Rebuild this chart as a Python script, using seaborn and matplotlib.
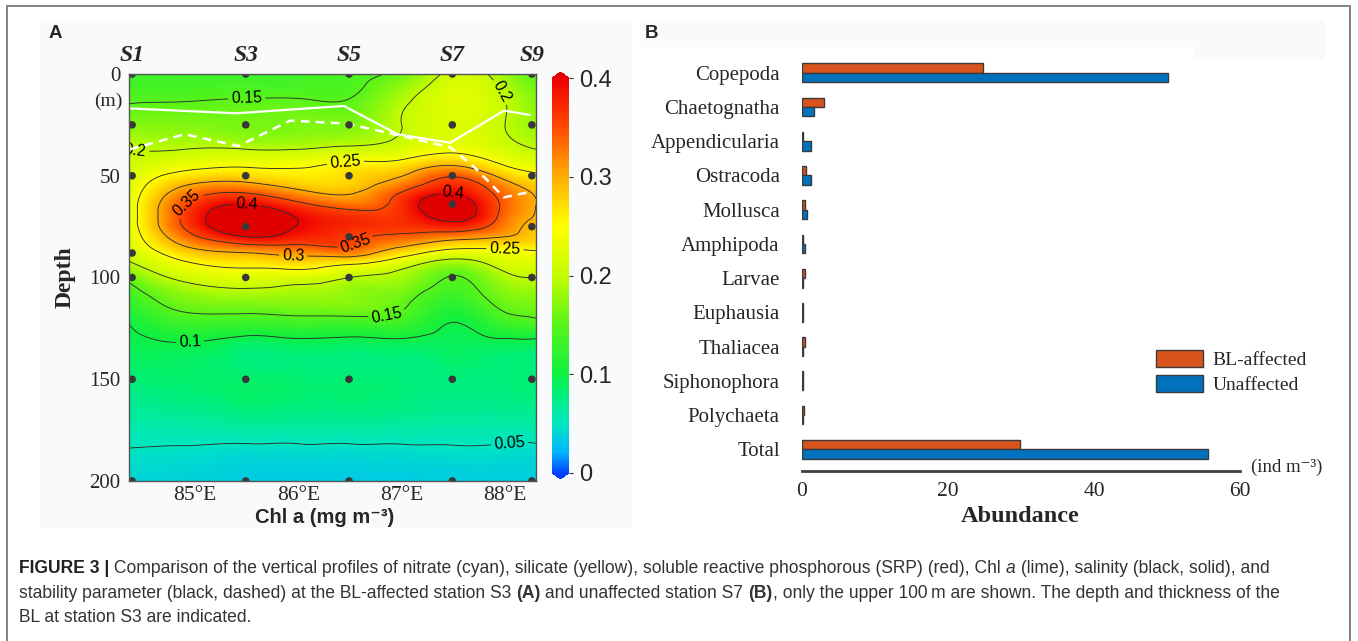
import numpy as np
import pandas as pd
import matplotlib
matplotlib.use("Agg")
import matplotlib.pyplot as plt
import matplotlib.tri as mtri
from matplotlib.colors import LinearSegmentedColormap
from matplotlib.patches import Rectangle, Patch
from matplotlib import font_manager as fm
import seaborn as sns

# ---------------- Panel A data ----------------
station_names = ["S1", "S3", "S5", "S7", "S9"]
station_lon = [84.39, 85.49, 86.49, 87.49, 88.26]
sample_depths = [
    [0, 25, 50, 88, 100, 150, 200],
    [0, 25, 50, 75, 100, 150, 200],
    [0, 25, 50, 80, 100, 150, 200],
    [0, 25, 50, 64, 100, 150, 200],
    [0, 25, 50, 75, 100, 150, 200],
]
grid_lon = [84.36, 84.9, 85.5, 86.0, 86.5, 87.0, 87.5, 88.0, 88.3]
grid_depth = [0, 12, 25, 37, 45, 52, 58, 64, 72, 80, 86, 92, 100, 110, 120, 130, 150, 180, 200]
chl_8436 = [0.13, 0.145, 0.17, 0.20, 0.21, 0.22, 0.225, 0.23, 0.23, 0.225, 0.215, 0.20, 0.16, 0.13, 0.105, 0.095, 0.08, 0.053, 0.04]
chl_8490 = [0.13, 0.147, 0.17, 0.20, 0.235, 0.28, 0.32, 0.35, 0.36, 0.33, 0.29, 0.25, 0.21, 0.17, 0.14, 0.105, 0.085, 0.053, 0.038]
chl_8550 = [0.13, 0.15, 0.165, 0.20, 0.245, 0.29, 0.345, 0.40, 0.44, 0.40, 0.32, 0.27, 0.225, 0.18, 0.14, 0.095, 0.085, 0.053, 0.035]
chl_8600 = [0.133, 0.15, 0.168, 0.20, 0.245, 0.27, 0.31, 0.36, 0.40, 0.38, 0.33, 0.28, 0.22, 0.18, 0.145, 0.10, 0.083, 0.053, 0.035]
chl_8650 = [0.14, 0.15, 0.17, 0.21, 0.26, 0.275, 0.295, 0.33, 0.375, 0.36, 0.34, 0.27, 0.20, 0.175, 0.145, 0.097, 0.082, 0.053, 0.035]
chl_8700 = [0.16, 0.19, 0.20, 0.22, 0.27, 0.31, 0.35, 0.37, 0.37, 0.34, 0.29, 0.23, 0.185, 0.16, 0.14, 0.10, 0.08, 0.053, 0.035]
chl_8750 = [0.21, 0.225, 0.22, 0.24, 0.30, 0.36, 0.395, 0.43, 0.405, 0.32, 0.25, 0.19, 0.148, 0.128, 0.103, 0.092, 0.08, 0.053, 0.035]
chl_8800 = [0.18, 0.20, 0.20, 0.215, 0.25, 0.30, 0.33, 0.34, 0.33, 0.30, 0.25, 0.22, 0.19, 0.165, 0.14, 0.10, 0.08, 0.052, 0.035]
chl_8830 = [0.15, 0.17, 0.18, 0.20, 0.23, 0.27, 0.295, 0.30, 0.295, 0.28, 0.255, 0.225, 0.20, 0.17, 0.15, 0.10, 0.08, 0.052, 0.035]
chl_columns = [chl_8436, chl_8490, chl_8550, chl_8600, chl_8650, chl_8700, chl_8750, chl_8800, chl_8830]

bl_line_lon = [84.36, 85.40, 86.44, 86.96, 87.47, 87.99, 88.24]
bl_line_depth = [16.9, 19.3, 15.7, 29.6, 33.8, 18.0, 20.1]
stab_line_lon = [84.37, 84.90, 85.42, 85.92, 86.47, 86.96, 87.47, 87.70, 87.99, 88.22]
stab_line_depth = [37.0, 29.6, 35.4, 22.9, 24.4, 30.0, 36.0, 45.6, 60.6, 58.2]

cbar_ticks = [0, 0.1, 0.2, 0.3, 0.4]
cbar_labels = ["0", "0.1", "0.2", "0.3", "0.4"]
lon_ticks = [85, 86, 87, 88]
lon_labels = ["85°E", "86°E", "87°E", "88°E"]
depth_ticks = [0, 50, 100, 150, 200]

# ---------------- Panel B data ----------------
taxa = ["Copepoda", "Chaetognatha", "Appendicularia", "Ostracoda", "Mollusca",
        "Amphipoda", "Larvae", "Euphausia", "Thaliacea", "Siphonophora",
        "Polychaeta", "Total"]
bl_affected = [24.8, 3.0, 0.1, 0.6, 0.35, 0.1, 0.45, 0.2, 0.35, 0.2, 0.25, 29.8]
unaffected = [50.1, 1.7, 1.3, 1.3, 0.65, 0.4, 0.1, 0.15, 0.1, 0.1, 0.1, 55.6]
groups = ["BL-affected", "Unaffected"]
abundance_ticks = [0, 20, 40, 60]

# ---------------- setup ----------------
W, H = 1358, 641
SERIF = ["Liberation Serif", "DejaVu Serif"]
SANS = ["Liberation Sans", "DejaVu Sans"]
sns.set_style("white")
plt.rcParams["font.family"] = SANS


def has_font(name):
    try:
        fm.findfont(fm.FontProperties(family=name), fallback_to_default=False)
        return True
    except Exception:
        return False


CAP = (["Liberation Sans Narrow", "Liberation Sans", "DejaVu Sans"]
       if has_font("Liberation Sans Narrow") else ["Liberation Sans", "DejaVu Sans"])

fig = plt.figure(figsize=(W / 100, H / 100), dpi=100)
fig.patch.set_facecolor("white")


def fx(px):
    return px / W


def fy(py):
    return 1 - py / H


# faint panel backgrounds and frame
bg = "#f8fafb"
fig.add_artist(Rectangle((fx(40), fy(528)), fx(632) - fx(40), fy(20) - fy(528),
                         transform=fig.transFigure, facecolor=bg, edgecolor="none", zorder=-5))
fig.add_artist(Rectangle((fx(640), fy(47)), fx(1325) - fx(640), fy(20) - fy(47),
                         transform=fig.transFigure, facecolor=bg, edgecolor="none", zorder=-5))
fig.add_artist(Rectangle((fx(1193), fy(60)), fx(1325) - fx(1193), fy(47) - fy(60),
                         transform=fig.transFigure, facecolor=bg, edgecolor="none", zorder=-5))
fig.add_artist(Rectangle((fx(7), -0.02), fx(1350) - fx(7), fy(6) + 0.02,
                         transform=fig.transFigure, fill=False, edgecolor="#808080",
                         linewidth=1.4, zorder=10))

# ---------------- Panel A ----------------
axA = fig.add_axes([fx(129), fy(481), fx(536) - fx(129), fy(74) - fy(481)])

cmap = LinearSegmentedColormap.from_list("odv", [
    (0.00, "#0048ff"), (0.05, "#00b4ff"), (0.125, "#00e6c0"), (0.20, "#00f07a"),
    (0.25, "#10f040"), (0.375, "#58f41a"), (0.50, "#c4fc00"), (0.625, "#ffff00"),
    (0.70, "#ffd000"), (0.75, "#ffae00"), (0.875, "#ff4a00"), (1.00, "#f00000")], N=512)
cmap.set_over("#e00000")
cmap.set_under("#0040ff")

LON = np.array(grid_lon)
DEP = np.array(grid_depth, dtype=float)
Z = np.column_stack(chl_columns)
nd, nl = Z.shape
LL, DD = np.meshgrid(LON, DEP)
xn = (LL - LON.min()) / (LON.max() - LON.min())
yn = DD / 200.0
tris = []
for i in range(nd - 1):
    for j in range(nl - 1):
        a = i * nl + j
        b = a + 1
        c = a + nl
        d = c + 1
        tris.append([a, b, d])
        tris.append([a, d, c])
tri = mtri.Triangulation(xn.ravel(), yn.ravel(), np.array(tris))
interp = mtri.CubicTriInterpolator(tri, Z.ravel(), kind="min_E")
fl = np.linspace(LON.min() + 1e-6, LON.max() - 1e-6, 320)
fd = np.linspace(1e-4, 200 - 1e-4, 420)
FL, FD = np.meshgrid(fl, fd)
ZF = interp((FL - LON.min()) / (LON.max() - LON.min()), FD / 200.0)
ZF = np.ma.filled(ZF, np.nan)

im = axA.imshow(ZF, extent=(LON.min(), LON.max(), 200, 0), cmap=cmap, vmin=0, vmax=0.4,
                aspect="auto", interpolation="bilinear", zorder=1)

label_pos = {
    0.05: [(88.05, 184)],
    0.1: [(84.95, 132)],
    0.15: [(85.5, 14), (86.85, 116)],
    0.2: [(84.42, 38), (87.72, 16)],
    0.25: [(86.45, 40), (88.0, 86)],
    0.3: [(85.95, 88)],
    0.35: [(84.9, 62), (86.55, 83)],
    0.4: [(85.5, 64), (87.5, 58)],
}
for lvl, pos in label_pos.items():
    cs = axA.contour(FL, FD, ZF, levels=[lvl], colors="#2e2e2e", linewidths=0.65, zorder=2)
    axA.clabel(cs, manual=pos, fmt=lambda v: f"{v:g}", fontsize=11.5, inline=True,
               inline_spacing=3, colors="black")

sns.lineplot(x=bl_line_lon, y=bl_line_depth, color="white", linewidth=1.6, sort=False,
             estimator=None, ax=axA, zorder=4)
sns.lineplot(x=stab_line_lon, y=stab_line_depth, color="white", linewidth=1.8, sort=False,
             estimator=None, ax=axA, zorder=4, linestyle=(0, (3.5, 2.5)))

dot_lon = []
dot_dep = []
for lon, deps in zip(station_lon, sample_depths):
    for d in deps:
        dot_lon.append(lon)
        dot_dep.append(d)
sns.scatterplot(x=dot_lon, y=dot_dep, color="#383838", s=30, edgecolor="none", ax=axA,
                zorder=5, legend=False)

axA.set_xlim(LON.min(), LON.max())
axA.set_ylim(200, 0)
axA.set_yticks(depth_ticks)
axA.set_yticks([25, 75, 125, 175], minor=True)
axA.set_xticks(lon_ticks)
axA.set_xticklabels(lon_labels)
axA.tick_params(axis="both", which="both", direction="in", length=3, width=0.8, color="#555555")
axA.tick_params(axis="y", which="major", pad=6)
for lbl in axA.get_yticklabels():
    lbl.set_family(SERIF)
    lbl.set_fontsize(15)
for lbl in axA.get_xticklabels():
    lbl.set_family(SERIF)
    lbl.set_fontsize(15.5)
for sp in axA.spines.values():
    sp.set_color("#555555")
    sp.set_linewidth(1.0)
    sp.set_zorder(6)

axA.set_ylabel("Depth", family=SERIF, fontweight="bold", fontsize=17)
axA.yaxis.set_label_coords(-0.13, 0.5)
axA.set_xlabel("Chl a (mg m\u207b\u00b3)", family=SANS, fontweight="bold", fontsize=14.5)
axA.xaxis.set_label_coords(0.48, -0.066)

for name, lon in zip(station_names, station_lon):
    axA.text(lon, -9, name, ha="center", va="center", fontsize=17, fontweight="bold",
             fontstyle="italic", family=SERIF, clip_on=False)
axA.text(-0.052, 0.934, "(m)", transform=axA.transAxes, ha="center", va="center",
         fontsize=14, family=SERIF)

cax = fig.add_axes([fx(552), fy(479), fx(569) - fx(552), fy(72) - fy(479)])
cbar = fig.colorbar(im, cax=cax, extend="both", extendfrac=0.016, ticks=cbar_ticks)
cbar.set_ticklabels(cbar_labels)
cbar.outline.set_visible(False)
cbar.ax.tick_params(length=3, width=0.8, color="#333333", direction="out", labelsize=17, pad=4)

fig.text(fx(55), fy(33), "A", fontsize=13.5, fontweight="bold", ha="center", va="center")
fig.text(fx(651), fy(33), "B", fontsize=13.5, fontweight="bold", ha="center", va="center")

# ---------------- Panel B ----------------
axB = fig.add_axes([fx(802), fy(470.7), fx(1240) - fx(802), fy(55) - fy(470.7)])
axB.patch.set_alpha(0)
df = pd.DataFrame({
    "taxon": taxa * 2,
    "group": [groups[0]] * len(taxa) + [groups[1]] * len(taxa),
    "abundance": bl_affected + unaffected,
})
palette = {"BL-affected": "#D9531E", "Unaffected": "#0072BD"}
sns.barplot(data=df, x="abundance", y="taxon", hue="group", hue_order=groups, order=taxa,
            palette=palette, orient="h", width=0.55, gap=0, saturation=1,
            edgecolor="#3a3a3a", linewidth=1.0, ax=axB, legend=False, errorbar=None)
axB.set_xlim(0, 60)
axB.set_ylim(11.625, -0.52)
axB.set_xticks(abundance_ticks)
axB.set_ylabel("")
axB.set_xlabel("Abundance", family=SERIF, fontweight="bold", fontsize=17.5)
axB.xaxis.set_label_coords(0.497, -0.085)
for side in ["left", "top", "right"]:
    axB.spines[side].set_visible(False)
axB.spines["bottom"].set_color("#404040")
axB.spines["bottom"].set_linewidth(2.0)
axB.tick_params(axis="y", length=0, pad=16)
axB.tick_params(axis="x", direction="out", length=4, width=1.5, color="#404040", pad=4)
for lbl in axB.get_yticklabels():
    lbl.set_family(SERIF)
    lbl.set_fontsize(15)
for lbl in axB.get_xticklabels():
    lbl.set_family(SERIF)
    lbl.set_fontsize(15.5)
axB.text(1.025, 0.008, "(ind m\u207b\u00b3)", transform=axB.transAxes, ha="left", va="center",
         fontsize=13.5, family=SERIF)

handles = [Patch(facecolor=palette[g], edgecolor="#3a3a3a", linewidth=1.0) for g in groups]
axB.legend(handles, groups, loc="upper left", bbox_to_anchor=(fx(1156), fy(350)),
           bbox_transform=fig.transFigure, frameon=False,
           prop={"family": SERIF, "size": 14}, handlelength=2.4, handleheight=0.95,
           labelspacing=0.32, handletextpad=0.5, borderpad=0, borderaxespad=0)

# ---------------- Caption ----------------
renderer = fig.canvas.get_renderer()


def seg_width(text, size, weight, style):
    prop = fm.FontProperties(family=CAP, size=size, weight=weight, style=style)
    w1, _, _ = renderer.get_text_width_height_descent("|" + text + "|", prop, ismath=False)
    w0, _, _ = renderer.get_text_width_height_descent("||", prop, ismath=False)
    return w1 - w0


line1 = [("FIGURE 3 |", "bold", "normal"),
         (" Comparison of the vertical profiles of nitrate (cyan), silicate (yellow), soluble reactive phosphorous (SRP) (red), Chl ", "normal", "normal"),
         ("a", "normal", "italic"),
         (" (lime), salinity (black, solid), and", "normal", "normal")]
line2 = [("stability parameter (black, dashed) at the BL-affected station S3 ", "normal", "normal"),
         ("(A)", "bold", "normal"),
         (" and unaffected station S7 ", "normal", "normal"),
         ("(B)", "bold", "normal"),
         (", only the upper 100\u2009m are shown. The depth and thickness of the", "normal", "normal")]
line3 = [("BL at station S3 are indicated.", "normal", "normal")]

base = 10.0
w_line1 = sum(seg_width(t, base, wt, st) for t, wt, st in line1)
cap_size = base * 1260.0 / w_line1
cap_size = min(cap_size, 13.5)


def draw_line(segs, x0, ybase):
    x = x0
    for t, wt, st in segs:
        col = "#222222" if wt == "bold" and t.startswith("FIGURE") else "#333333"
        fig.text(fx(x), fy(ybase), t, fontsize=cap_size, fontweight=wt, fontstyle=st,
                 family=CAP, color=col, ha="left", va="baseline")
        x += seg_width(t, cap_size, wt, st)


draw_line(line1, 19, 573)
draw_line(line2, 19, 597.5)
draw_line(line3, 19, 622)

fig.savefig("out.png", dpi=100, facecolor="white")
